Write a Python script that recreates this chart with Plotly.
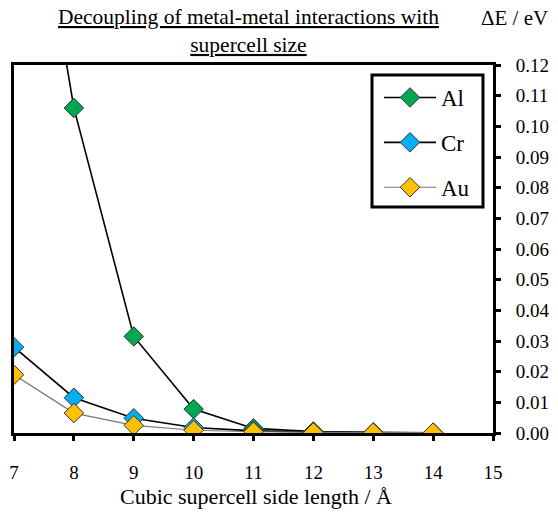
import plotly.graph_objects as go

x_vals = [7, 8, 9, 10, 11, 12, 13, 14]
al_vals = [0.223, 0.106, 0.0315, 0.0078, 0.0015, 0.0005, 0.0002, 0.0001]
cr_vals = [0.028, 0.0115, 0.0048, 0.0018, 0.0007, 0.0003, 0.0001, 0.0001]
au_vals = [0.019, 0.0065, 0.0025, 0.0009, 0.0004, 0.0002, 0.0001, 0.0001]
x_ticks = list(range(7, 16))
y_ticks = [i / 100 for i in range(0, 13)]

serif = "Liberation Serif"

W, H = 558, 515
L, R, T, B = 14, 493, 65, 433

def px(x):
    return (x - L) / (R - L)

def py(y):
    return (B - y) / (B - T)

fig = go.Figure()
series = [
    ("Al", al_vals, "#00A650", "black", 1.6),
    ("Cr", cr_vals, "#00B0F0", "black", 1.6),
    ("Au", au_vals, "#FFC000", "#777777", 1.2),
]
for name, vals, col, lcol, lw in series:
    fig.add_trace(go.Scatter(
        x=x_vals, y=vals, name=name, mode="lines+markers",
        line=dict(color=lcol, width=lw),
        marker=dict(symbol="diamond", size=15, color=col,
                    line=dict(color="#333333", width=1)),
        legendgroup=name,
    ))

fig.update_layout(
    width=W, height=H,
    margin=dict(l=L, r=W - R, t=T, b=H - B, autoexpand=False),
    paper_bgcolor="white", plot_bgcolor="white",
    font=dict(family=serif, color="black"),
    showlegend=True,
    legend=dict(
        x=px(379), y=py(76),
        xanchor="left", yanchor="top",
        borderwidth=0, bgcolor="rgba(0,0,0,0)",
        font=dict(size=23, family=serif),
        tracegroupgap=12,
        itemwidth=52,
    ),
    shapes=[
        dict(type="rect", xref="paper", yref="paper",
             x0=px(372), x1=px(483), y0=py(75), y1=py(207),
             line=dict(color="black", width=3), fillcolor="white", layer="below"),
    ],
    xaxis=dict(
        range=[7, 15], tickmode="array", tickvals=x_ticks,
        ticktext=[str(t) for t in x_ticks],
        showgrid=False, zeroline=False, automargin=False,
        showline=True, linecolor="black", linewidth=3, mirror=True,
        ticks="outside", ticklen=5, tickwidth=3, tickcolor="black",
        ticklabelstandoff=15,
        tickfont=dict(size=19, family=serif),
    ),
    yaxis=dict(
        range=[0, 0.12], side="right", tickmode="array", tickvals=y_ticks,
        ticktext=[f"{t:.2f}" for t in y_ticks],
        showgrid=False, zeroline=False, automargin=False,
        showline=True, linecolor="black", linewidth=3, mirror=True,
        ticks="outside", ticklen=5, tickwidth=3, tickcolor="black",
        ticklabelstandoff=11,
        tickfont=dict(size=19, family=serif),
    ),
    annotations=[
        dict(text="Decoupling of metal-metal interactions with<br>supercell size",
             xref="paper", yref="paper",
             x=px(248), y=py(31),
             xanchor="center", yanchor="middle", showarrow=False,
             font=dict(size=21.5, family=serif, lineposition="under")),
        dict(text="ΔE / eV", xref="paper", yref="paper",
             x=px(514), y=py(18),
             xanchor="center", yanchor="middle", showarrow=False,
             font=dict(size=21, family=serif)),
        dict(text="Cubic supercell side length / Å", xref="paper", yref="paper",
             x=px(256), y=py(497),
             xanchor="center", yanchor="middle", showarrow=False,
             font=dict(size=22, family=serif)),
    ],
)

fig.write_html("out.html")
